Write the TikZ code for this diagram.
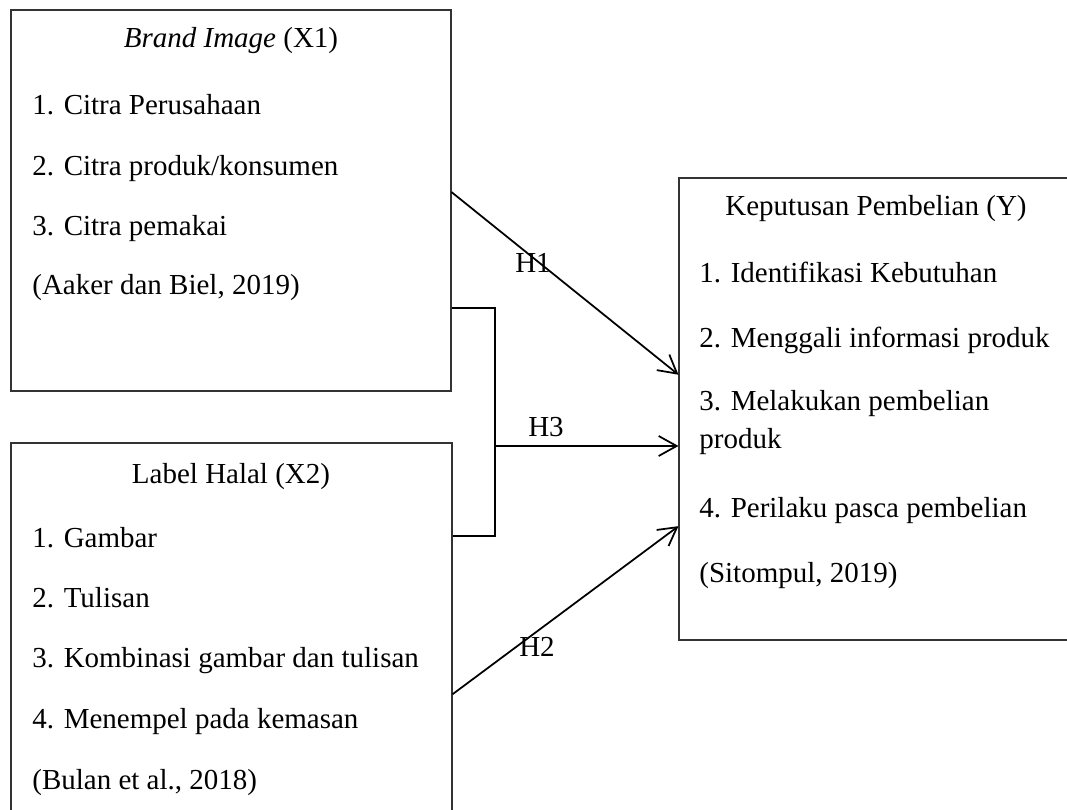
\documentclass[tikz,border=0pt]{standalone}
\usepackage{fontspec}
\setmainfont{Liberation Serif}
\usetikzlibrary{arrows.meta,calc}

\begin{document}
\begin{tikzpicture}[>={Straight Barb[length=3.6mm,width=4mm]},
  box/.style={draw=black!80,line width=0.6pt,minimum width=8.8cm,minimum height=7.62cm},
  txt/.style={inner sep=0pt,anchor=base west,font=\fontsize{16.5pt}{20pt}\selectfont},
  ttl/.style={txt,anchor=base},
  link/.style={->,line width=1pt}]
\useasboundingbox (0,0) rectangle (21.34,16.18);

% boxes
\node[box] (x1) at (4.62,12.17) {};
\node[box,minimum width=8.82cm] (x2) at (4.63,3.51) {};
\node[box,minimum width=7.92cm,minimum height=9.24cm] (y) at (17.54,8.0) {};

% Brand Image
\node[ttl] (x1t) at (4.62,15.22) {\textit{Brand Image} (X1)};
\node[txt] (x1a) at (0.64,13.88) {1. Citra Perusahaan};
\node[txt] (x1b) at (0.64,12.68) {2. Citra produk/konsumen};
\node[txt] (x1c) at (0.64,11.48) {3. Citra pemakai};
\node[txt] (x1s) at (0.64,10.30) {(Aaker dan Biel, 2019)};

% Label Halal
\node[ttl] (x2t) at (4.62,6.52) {Label Halal (X2)};
\node[txt] (x2a) at (0.64,5.24) {1. Gambar};
\node[txt] (x2b) at (0.64,4.04) {2. Tulisan};
\node[txt] (x2c) at (0.64,2.84) {3. Kombinasi gambar dan tulisan};
\node[txt] (x2d) at (0.64,1.62) {4. Menempel pada kemasan};
\node[txt] (x2s) at (0.64,0.40) {(Bulan et al., 2018)};

% Keputusan Pembelian
\node[ttl] (yt) at (17.52,11.88) {Keputusan Pembelian (Y)};
\node[txt] (ya) at (13.98,10.54) {1. Identifikasi Kebutuhan};
\node[txt] (yb) at (13.98,9.24) {2. Menggali informasi produk};
\node[txt] (yc) at (13.98,7.98) {3. Melakukan pembelian};
\node[txt] (yc2) at (13.98,7.22) {produk};
\node[txt] (yd) at (13.98,5.84) {4. Perilaku pasca pembelian};
\node[txt] (ys) at (13.98,4.54) {(Sitompul, 2019)};

% hypotheses
\coordinate (jn) at (9.9,7.26);
\draw[link] ($(x1.north east)!.478!(x1.south east)$) -- ($(y.north west)!.426!(y.south west)$);
\draw[line width=1pt] ($(x1.north east)!.782!(x1.south east)$) -| (jn)
  |- ($(x2.north east)!.244!(x2.south east)$);
\draw[link] (jn) -- (jn -| y.west);
\draw[link] ($(x2.north east)!.659!(x2.south east)$) -- ($(y.north west)!.753!(y.south west)$);

\node[ttl] (h1) at (10.66,10.74) {H1};
\node[ttl] (h3) at (10.92,7.46) {H3};
\node[ttl] (h2) at (10.74,3.06) {H2};
\end{tikzpicture}
\end{document}
